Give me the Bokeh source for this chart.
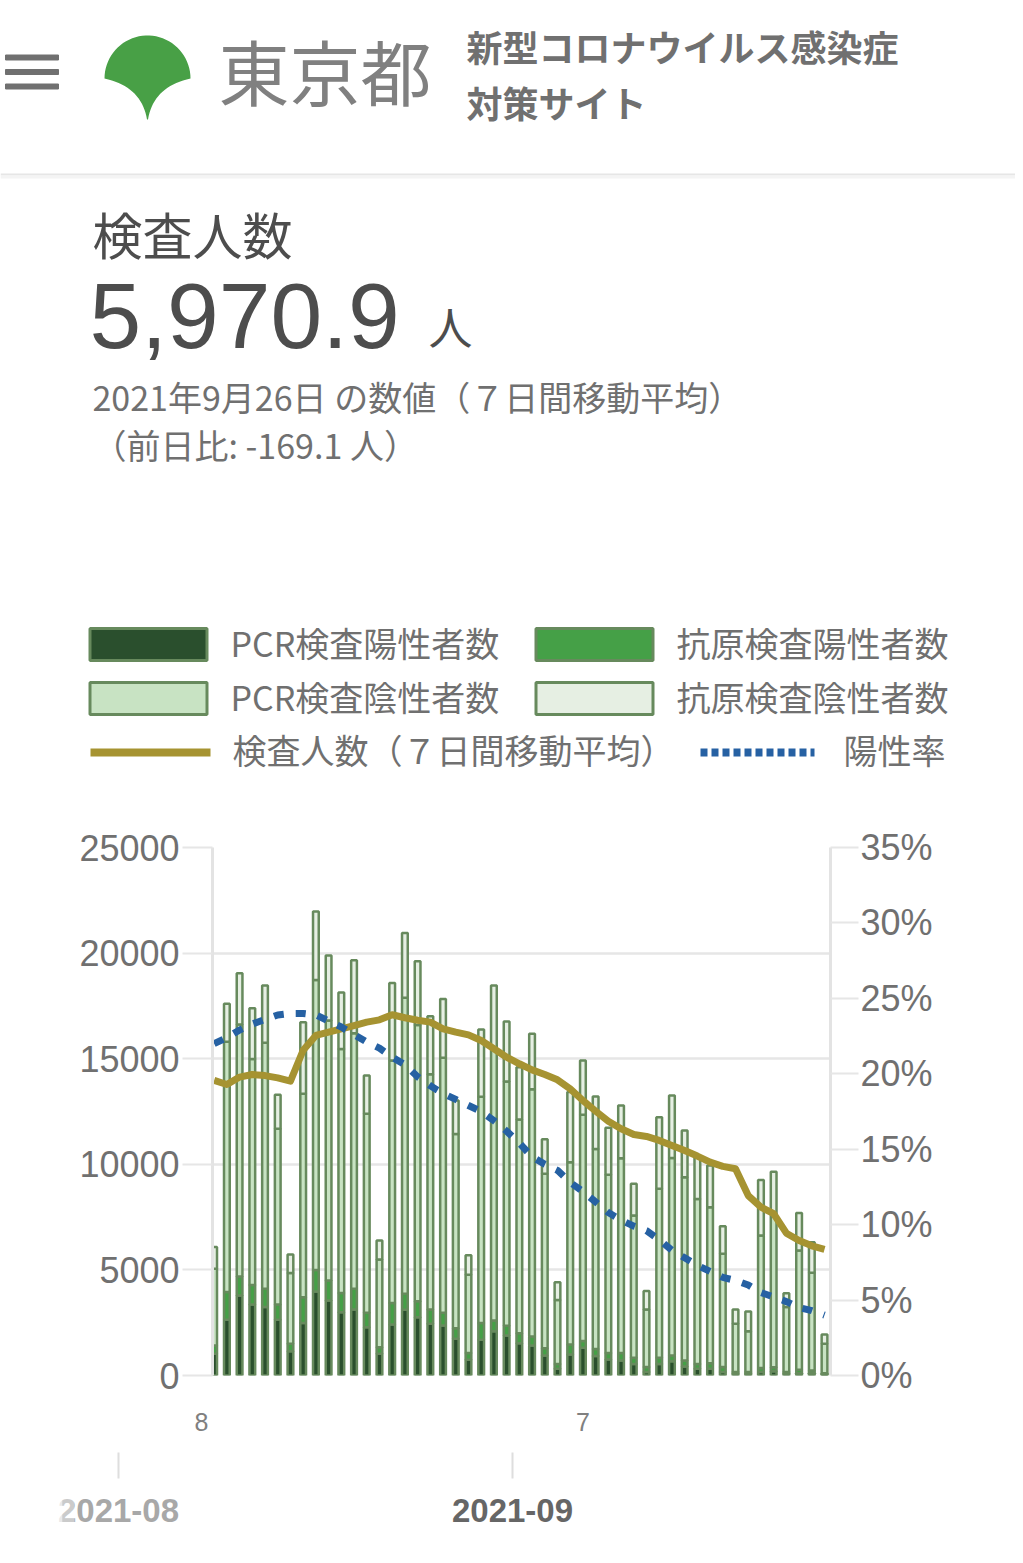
import numpy as np
import pandas as pd
from bokeh.plotting import figure
from bokeh.models import Range1d, LinearAxis, FixedTicker, ColumnDataSource
from bokeh.core.properties import value
from bokeh.embed import file_html
from bokeh.resources import INLINE

# ---------------- data ----------------
dates = [
    "2021-08-09", "2021-08-10", "2021-08-11", "2021-08-12", "2021-08-13", "2021-08-14", "2021-08-15",
    "2021-08-16", "2021-08-17", "2021-08-18", "2021-08-19", "2021-08-20", "2021-08-21", "2021-08-22",
    "2021-08-23", "2021-08-24", "2021-08-25", "2021-08-26", "2021-08-27", "2021-08-28", "2021-08-29",
    "2021-08-30", "2021-08-31", "2021-09-01", "2021-09-02", "2021-09-03", "2021-09-04", "2021-09-05",
    "2021-09-06", "2021-09-07", "2021-09-08", "2021-09-09", "2021-09-10", "2021-09-11", "2021-09-12",
    "2021-09-13", "2021-09-14", "2021-09-15", "2021-09-16", "2021-09-17", "2021-09-18", "2021-09-19",
    "2021-09-20", "2021-09-21", "2021-09-22", "2021-09-23", "2021-09-24", "2021-09-25", "2021-09-26",
]
pcr_pos = [1030, 2640, 3790, 3360, 3240, 2640, 1150, 2480, 3980, 3550, 3000, 3130, 2290, 1030,
           2420, 3110, 2760, 2450, 2370, 1740, 740, 1690, 2100, 1890, 1530, 1420, 950, 320,
           990, 1310, 920, 760, 710, 550, 160, 550, 680, 430, 320, 320, 160, 80,
           80, 160, 200, 80, 110, 110, 50]
ag_pos = [390, 1310, 900, 930, 870, 720, 350, 1230, 1020, 950, 910, 980, 680, 310,
          1010, 760, 760, 680, 600, 500, 320, 790, 500, 460, 470, 430, 340, 230,
          480, 320, 340, 300, 350, 290, 240, 290, 270, 280, 230, 260, 240, 80,
          80, 200, 190, 80, 160, 130, 60]
pcr_neg = [3630, 11850, 11930, 10700, 11650, 8320, 3350, 9630, 13730, 12310, 11550, 12100, 9420, 4150,
           11490, 14020, 13080, 11130, 12070, 9200, 3710, 10720, 12900, 11570, 10120, 11700, 8260, 3030,
           8630, 10720, 9470, 8440, 9230, 6740, 2730, 8000, 9350, 8680, 7810, 7390, 5360, 2290,
           1940, 6270, 7260, 3080, 5650, 4620, 1390]
ag_neg = [1030, 1800, 2430, 2400, 2700, 1610, 880, 3390, 3240, 3080, 2680, 3450, 1820, 900,
          3660, 3060, 3020, 2750, 2790, 1580, 920, 3180, 2970, 2840, 2480, 2630, 1640, 840,
          3320, 2570, 2480, 2230, 2490, 1500, 870, 3390, 2960, 2210, 2050, 1970, 1310, 680,
          930, 2630, 2000, 660, 1780, 1450, 440]
avg7 = [13970, 13780, 14130, 14250, 14200, 14090, 13940, 15400, 16100, 16260, 16410, 16570, 16730, 16840,
        17080, 16940, 16820, 16730, 16410, 16260, 16130, 15860, 15470, 15070, 14760, 14470, 14250, 14000,
        13570, 13020, 12520, 12040, 11680, 11410, 11320, 11130, 10890, 10650, 10390, 10100, 9900, 9790,
        8520, 7970, 7660, 6740, 6390, 6140.0, 5970.9]
pos_rate = [22.0, 22.4, 22.9, 23.3, 23.6, 23.9, 24.0, 24.0, 23.9, 23.5, 23.1, 22.6, 22.1, 21.7,
            21.1, 20.6, 19.8, 19.2, 18.7, 18.3, 17.9, 17.5, 16.9, 16.2, 15.4, 14.5, 14.0, 13.6,
            12.8, 12.2, 11.5, 10.8, 10.3, 9.9, 9.6, 9.0, 8.3, 7.8, 7.3, 6.9, 6.5, 6.3,
            6.0, 5.5, 5.2, 4.9, 4.5, 4.3, 4.0]
y_ticks = [0, 5000, 10000, 15000, 20000, 25000]
pct_ticks = [0, 5, 10, 15, 20, 25, 30, 35]
x_tick_labels = {"2021-08-08": "8", "2021-09-07": "7"}
month_labels = ["2021-08", "2021-09"]
series_names = ["PCR検査陽性者数", "抗原検査陽性者数", "PCR検査陰性者数", "抗原検査陰性者数"]
line_names = ["検査人数（７日間移動平均）", "陽性率"]

# ---------------- style ----------------
JP = "Noto Sans CJK JP"
LAT = "Liberation Sans"
C_PP = "#2a4f2d"
C_AP = "#45a047"
C_PN = "#c8e3c3"
C_AN = "#e6efe3"
C_BORDER = "#678a5d"
C_AVG = "#a69331"
C_RATE = "#2661a3"
GRAY = "#707070"
DARK = "#4d4d4d"
W = 1015

base = pd.Timestamp(dates[0])
xs = [(pd.Timestamp(d) - base).days for d in dates]
X0, X1 = -0.13, 48.47          # visible day window of the chart
FL, FR = 212, 830              # chart frame left/right on the page


def txt(p, x, y, s, size, color, font=JP, style="normal", align="left", alpha=1.0):
    p.text(x=[x], y=[y], text=[s], text_font=value(font), text_font_size=f"{size}px",
           text_color=color, text_font_style=style, text_align=align, text_baseline="middle",
           text_alpha=alpha)


def blank(height, y0):
    p = figure(width=W, height=height, x_range=Range1d(0, W), y_range=Range1d(y0 + height, y0),
               min_border=0, x_axis_location=None, y_axis_location=None, toolbar_location=None,
               output_backend="svg", outline_line_color=None)
    for g in p.grid:
        g.visible = False
    return p


# ---------------- header + summary + legend ----------------
HA = 823
pa = blank(HA, 0)
pa.rect(x=[31.5] * 3, y=[57, 71.5, 86], width=53, height=5, color="#707070")
t = np.linspace(0, np.pi, 40)
top_x = 147 + 43 * np.cos(t)
top_y = 78 - 43 * np.sin(t)
s = np.linspace(0, 1, 20)
lx = (1 - s) ** 2 * 104 + 2 * (1 - s) * s * 141 + s ** 2 * 146.5
ly = (1 - s) ** 2 * 78 + 2 * (1 - s) * s * 86 + s ** 2 * 119
rx = (1 - s) ** 2 * 147.5 + 2 * (1 - s) * s * 153 + s ** 2 * 190
ry = (1 - s) ** 2 * 119 + 2 * (1 - s) * s * 86 + s ** 2 * 78
pa.patch(x=np.concatenate([top_x, lx, rx]), y=np.concatenate([top_y, ly, ry]),
         fill_color="#48a046", line_color=None)
txt(pa, 218, 68, "東京都", 71, "#808080")
txt(pa, 466, 45, "新型コロナウイルス感染症", 36, GRAY, style="bold")
txt(pa, 466, 101, "対策サイト", 36, GRAY, style="bold")
pa.line(x=[0, W], y=[174, 174], line_color="#e6e6e6", line_width=2)
pa.line(x=[0, W], y=[176.5, 176.5], line_color="#f4f4f4", line_width=3)

txt(pa, 92, 232, "検査人数", 50, DARK)
txt(pa, 89, 315, "5,970.9", 93, DARK, font=LAT)
txt(pa, 428, 325, "人", 44, DARK)
txt(pa, 92, 396, "2021年9月26日 の数値（７日間移動平均）", 34, GRAY)
txt(pa, 92, 444, "（前日比: -169.1 人）", 34, GRAY)

sw_fill = [C_PP, C_AP, C_PN, C_AN]
sw_x = [148, 594, 148, 594]
sw_y = [644, 644, 698, 698]
txt_x = [230, 676, 230, 676]
for i in range(4):
    pa.rect(x=[sw_x[i]], y=[sw_y[i]], width=117, height=32, fill_color=sw_fill[i],
            line_color=C_BORDER, line_width=3)
    txt(pa, txt_x[i], sw_y[i] - 2, series_names[i], 34, GRAY)
pa.line(x=[90, 210], y=[752, 752], line_color=C_AVG, line_width=8)
txt(pa, 232, 749, line_names[0], 34, GRAY)
pa.line(x=[700, 814], y=[752, 752], line_color=C_RATE, line_width=8, line_dash="7 4")
txt(pa, 843, 749, line_names[1], 34, GRAY)

# ---------------- chart ----------------
HB = 24 + 528 + 22
pb = figure(width=W, height=HB, x_range=Range1d(X0, X1), y_range=Range1d(0, 25000),
            min_border_left=FL, min_border_right=W - FR, min_border_top=24, min_border_bottom=22,
            toolbar_location=None, output_backend="svg", outline_line_color=None)
pb.extra_y_ranges = {"pct": Range1d(0, 35)}

src = ColumnDataSource(dict(x=xs, pcr_pos=pcr_pos, ag_pos=ag_pos, pcr_neg=pcr_neg, ag_neg=ag_neg))
pb.vbar_stack(["pcr_pos", "ag_pos", "pcr_neg", "ag_neg"], x="x", width=0.45, source=src,
              fill_color=[C_PP, C_AP, C_PN, C_AN], line_color=C_BORDER, line_width=2.5)
pb.line(xs, avg7, line_color=C_AVG, line_width=7, line_join="round")
pb.line(xs, pos_rate, y_range_name="pct", line_color=C_RATE, line_width=7, line_dash="10 12")

pb.xgrid.visible = False
pb.xaxis.visible = False
pb.ygrid.ticker = FixedTicker(ticks=y_ticks)
pb.ygrid.grid_line_color = "#e6e6e6"
pb.ygrid.grid_line_width = 2.5


def style_axis(ax, out, standoff):
    ax.axis_line_color = "#e3e3e3"
    ax.axis_line_width = 3
    ax.major_tick_out = out
    ax.major_tick_in = 0
    ax.major_tick_line_color = "#e6e6e6"
    ax.major_tick_line_width = 2
    ax.minor_tick_line_color = None
    ax.major_label_text_font = LAT
    ax.major_label_text_font_size = "36px"
    ax.major_label_text_color = GRAY
    ax.major_label_standoff = standoff


ya = pb.yaxis[0]
ya.ticker = FixedTicker(ticks=y_ticks)
ya.major_label_overrides = {v: str(v) for v in y_ticks}
style_axis(ya, 30, 3)

ra = LinearAxis(y_range_name="pct", ticker=FixedTicker(ticks=pct_ticks),
                major_label_overrides={v: f"{v}%" for v in pct_ticks})
style_axis(ra, 28, 2)
pb.add_layout(ra, "right")

# ---------------- footer: day ticks + month range selector ----------------
Y0C = HA + HB
HC = 1550 - Y0C
pc = blank(HC, Y0C)
for d, lab in x_tick_labels.items():
    day = (pd.Timestamp(d) - base).days
    px = FL + (day - X0) * (FR - FL) / (X1 - X0)
    txt(pc, px, 1421, lab, 25, "#808080", font=LAT, align="center")
pc.segment(x0=[118, 512], y0=[1452, 1452], x1=[118, 512], y1=[1478, 1478],
           line_color="#dedede", line_width=2)
txt(pc, 118, 1510, month_labels[0], 33, "#a8a8a8", font=LAT, style="bold", align="center")
pc.quad(left=[0, 48, 62], right=[48, 62, 74], bottom=[1490, 1490, 1490], top=[1530, 1530, 1530],
        fill_color="white", fill_alpha=[1.0, 0.75, 0.4], line_color=None)
txt(pc, 512, 1510, month_labels[1], 33, "#666666", font=LAT, style="bold", align="center")

p = [pa, pb, pc]
open("out.html", "w").write(file_html(p, INLINE))
